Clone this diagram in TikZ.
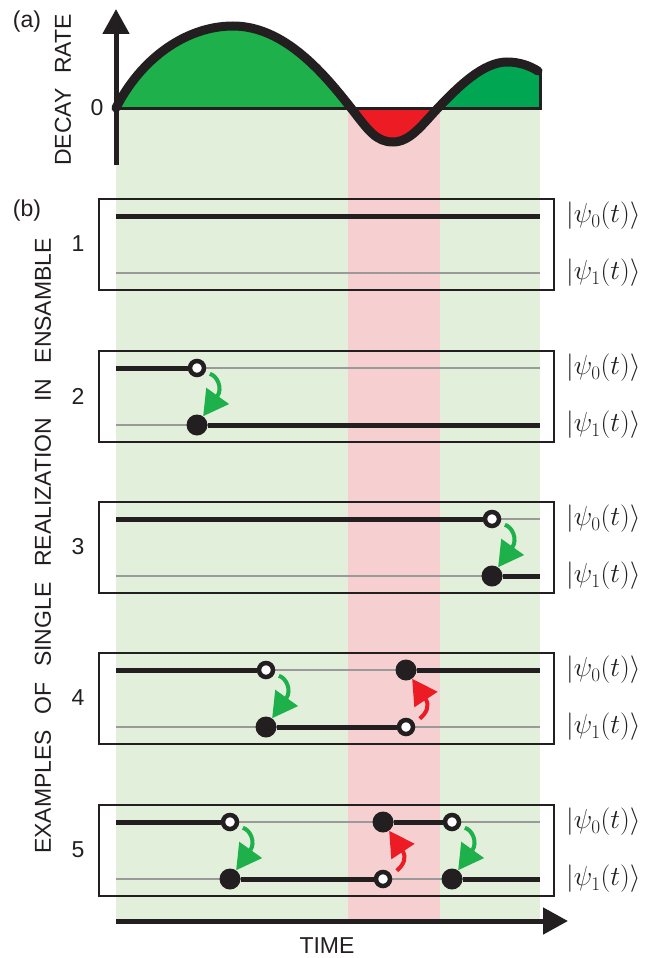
\RequirePackage{fix-cm}
\documentclass[tikz,border=0pt]{standalone}
\usepackage{fontspec}
\setmainfont{Liberation Sans}[WordSpace=2.3]
\newfontfamily\wideSans{Liberation Sans}[WordSpace=2.45]
\usetikzlibrary{arrows.meta}

\definecolor{drInk}{HTML}{231F20}
\definecolor{drGreen}{HTML}{1DB04B}
\definecolor{drGreenDark}{HTML}{00A651}
\definecolor{drRed}{HTML}{ED1C24}
\definecolor{drBandGreen}{HTML}{E2EFDA}
\definecolor{drBandRed}{HTML}{F6D0D1}
\definecolor{drGrey}{HTML}{9A9A9A}

\tikzset{
  lbl/.style={font=\fontsize{23}{27}\selectfont, text=drInk},
  ket/.style={font=\fontsize{27.5}{32}\selectfont, text=drInk, anchor=west, inner sep=0pt},
  realbox/.style={draw=drInk, line width=2.5pt},
  fullstate/.style={drInk, line width=5pt},
  emptystate/.style={drGrey, line width=1.5pt},
  leftstate/.style={circle, draw=drInk, fill=white, line width=4.5pt, minimum size=14pt, inner sep=0pt},
  enterstate/.style={circle, fill=drInk, minimum size=21pt, inner sep=0pt},
  decay/.style={drGreen, line width=4pt, shorten <=5pt, -{Triangle[length=25pt,width=27pt]}},
  excite/.style={drRed, line width=4pt, shorten <=7pt, -{Triangle[length=25pt,width=27pt]}},
  axis/.style={drInk, line width=5pt, -{Triangle[length=25pt,width=26pt]}}
}

\begin{document}
\begin{tikzpicture}[x=1pt, y=-1pt]
  \useasboundingbox (0,0) rectangle (652,958);
  \fill[white] (0,0) rectangle (652,958);

  % shaded time windows
  \fill[drBandGreen] (116,108) rectangle (540,919);
  \fill[drBandRed] (348,108) rectangle (440,919);

  % (a) decay rate against time
  \def\drCurve{(116,108) .. controls (140,60) and (185,26) .. (233,26)
    .. controls (285,26) and (325,75) .. (351,108)
    .. controls (368,130) and (376,142) .. (393,142)
    .. controls (410,142) and (422,125) .. (438,108)
    .. controls (458,87) and (483,62) .. (507,62)
    .. controls (520,62) and (530,66) .. (538,71)}
  \begin{scope}
    \clip (116,0) rectangle (351,108);
    \fill[drGreen] \drCurve -- (540,71) -- (540,108) -- cycle;
  \end{scope}
  \begin{scope}
    \clip (351,108) rectangle (438,160);
    \fill[drRed] \drCurve -- (540,71) -- (540,108) -- cycle;
  \end{scope}
  \begin{scope}
    \clip (438,0) rectangle (541,108);
    \fill[drGreenDark] \drCurve -- (540,71) -- (540,108) -- cycle;
  \end{scope}
  \coordinate (O) at (116,108);
  \coordinate (zeroEnd) at (540,108);
  \coordinate (fillTop) at (540,71);
  \draw[drInk, line width=3pt] (O) -- (zeroEnd) -- (fillTop);
  \draw[drInk, line width=9pt, line cap=round] \drCurve;
  \coordinate (yBot) at (116,165);
  \coordinate (yTop) at (116,9);
  \draw[axis] (yBot) -- (yTop);

  \node[lbl] (tagA) at (27,22) {(a)};
  \node[lbl] (zero) at (97,108) {0};
  \node[lbl, rotate=90] (rate) at (63,90) {DECAY RATE};
  \node[lbl] (tagB) at (27,211) {(b)};
  \node[lbl, rotate=90] (ensemble) at (43,546) {\wideSans EXAMPLES OF SINGLE REALIZATION IN ENSAMBLE};

  % (b) one box per realization
  \foreach \n/\y in {1/216, 2/368, 3/519, 4/670, 5/822} {
    \draw[realbox] (99,\y-17) rectangle (554,\y+74);
    \coordinate (l0-\n) at (116,\y);
    \coordinate (r0-\n) at (540,\y);
    \coordinate (l1-\n) at (116,\y+57);
    \coordinate (r1-\n) at (540,\y+57);
    \draw[emptystate] (l0-\n) -- (r0-\n);
    \draw[emptystate] (l1-\n) -- (r1-\n);
    \node[ket] (k0-\n) at (566,\y) {$|\psi_0(t)\rangle$};
    \node[ket] (k1-\n) at (566,\y+57) {$|\psi_1(t)\rangle$};
    \node[lbl] (num\n) at (78,\y+28) {\n};
  }

  % realization 1
  \draw[fullstate] (l0-1) -- (r0-1);

  % realization 2
  \node[leftstate] (o2) at (197,368) {};
  \node[enterstate] (f2) at (197,425) {};
  \draw[fullstate] (l0-2) -- (o2);
  \draw[fullstate] (f2) -- (r1-2);
  \draw[decay] (o2.-30) .. controls +(12,3) and +(20,-28) .. (f2.55);

  % realization 3
  \node[leftstate] (o3) at (492,519) {};
  \node[enterstate] (f3) at (492,576) {};
  \draw[fullstate] (l0-3) -- (o3);
  \draw[fullstate] (f3) -- (r1-3);
  \draw[decay] (o3.-30) .. controls +(12,3) and +(20,-28) .. (f3.55);

  % realization 4
  \node[leftstate] (o4a) at (266,670) {};
  \node[enterstate] (f4a) at (266,727) {};
  \node[enterstate] (f4b) at (406,670) {};
  \node[leftstate] (o4b) at (406,727) {};
  \draw[fullstate] (l0-4) -- (o4a);
  \draw[fullstate] (f4a) -- (o4b);
  \draw[fullstate] (f4b) -- (r0-4);
  \draw[decay] (o4a.-30) .. controls +(12,3) and +(20,-28) .. (f4a.55);
  \draw[excite] (o4b.25) .. controls +(12,-10) and +(18,27) .. (f4b.-55);

  % realization 5
  \node[leftstate] (o5a) at (230,822) {};
  \node[enterstate] (f5a) at (230,879) {};
  \node[enterstate] (f5b) at (383,822) {};
  \node[leftstate] (o5b) at (383,879) {};
  \node[leftstate] (o5c) at (452,822) {};
  \node[enterstate] (f5c) at (452,879) {};
  \draw[fullstate] (l0-5) -- (o5a);
  \draw[fullstate] (f5a) -- (o5b);
  \draw[fullstate] (f5b) -- (o5c);
  \draw[fullstate] (f5c) -- (r1-5);
  \draw[decay] (o5a.-30) .. controls +(12,3) and +(20,-28) .. (f5a.55);
  \draw[excite] (o5b.25) .. controls +(12,-10) and +(18,27) .. (f5b.-55);
  \draw[decay] (o5c.-30) .. controls +(12,3) and +(20,-28) .. (f5c.55);

  % time axis
  \coordinate (tStart) at (116,921);
  \coordinate (tEnd) at (568,921);
  \draw[axis] (tStart) -- (tEnd);
  \node[lbl] (time) at (327,946) {TIME};
\end{tikzpicture}
\end{document}
